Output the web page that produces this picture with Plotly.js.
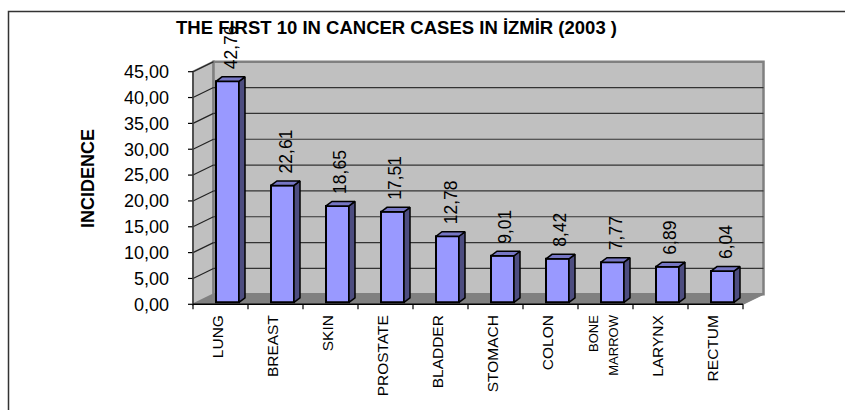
<!DOCTYPE html>
<html><head><meta charset="utf-8">
<script src="https://cdn.plot.ly/plotly-3.0.1.min.js"></script>
<style>html,body{margin:0;padding:0;background:#fff}#chart{width:845px;height:410px}</style>
</head><body><div id="chart"></div>
<script>
// ---- data ----
const categories = ['LUNG','BREAST','SKIN','PROSTATE','BLADDER','STOMACH','COLON','BONE MARROW','LARYNX','RECTUM'];
const incidence = [42.76, 22.61, 18.65, 17.51, 12.78, 9.01, 8.42, 7.77, 6.89, 6.04];
const yTickValues = [0, 5, 10, 15, 20, 25, 30, 35, 40, 45];
const chartTitle = 'THE FIRST 10 IN CANCER CASES IN İZMİR (2003 )';
const yTitle = 'INCIDENCE';

const fmt = v => v.toFixed(2).replace('.', ',');
const valueLabels = incidence.map(fmt);
const yTickLabels = yTickValues.map(fmt);
const tickText = categories.map(c => c.indexOf(' ') > 0
  ? c.split(' ').map(w => '<span style="font-size:13px">' + w + '</span>').join('<br>')
  : c);

// ---- geometry (pixels) ----
const W = 845, H = 410;
const FX0 = 193, FX10 = 743, FY0 = 304.3, FY45 = 71.7;   // front plane
const kx = (FX10 - FX0) / categories.length;
const ky = (FY0 - FY45) / 45;
const L = 187, R = 768, T = 58, B = 311;                  // plot area
const DX = 20.5, DY = 10;                                  // wall depth
const ox = DX / kx, oy = DY / ky;
const BAR_OFF = 23, BAR_W = 23, BAR_LIFT = 2, SIDE_DX = 6, SIDE_DY = 4.5;
const yMax = 45;
const n = categories.length;

const FONT = 'Liberation Sans, Arial, sans-serif';
const px2x = p => p / kx, px2y = p => p / ky;

// ---- bars ----
const idx = categories.map((_, i) => i);
const base = px2y(BAR_LIFT);
const barX = idx.map(i => i + px2x(BAR_OFF + BAR_W / 2));
const sdx = px2x(SIDE_DX), sdy = px2y(SIDE_DY);

const sideX = [], sideY = [], topX = [], topY = [];
idx.forEach(i => {
  const xl = i + px2x(BAR_OFF), xr = i + px2x(BAR_OFF + BAR_W);
  const yt = base + incidence[i];
  sideX.push(xr, xr, xr + sdx, xr + sdx, xr, null);
  sideY.push(base, yt, yt + sdy, base + sdy, base, null);
  topX.push(xl, xr, xr + sdx, xl + sdx, xl, null);
  topY.push(yt, yt, yt + sdy, yt + sdy, yt, null);
});

const traces = [
  {type: 'bar', x: barX, y: incidence, base: base, width: px2x(BAR_W),
   marker: {color: '#9999FF', line: {color: '#000000', width: 2}}, hoverinfo: 'skip'},
  {type: 'scatter', mode: 'lines', x: sideX, y: sideY, fill: 'toself', fillcolor: '#4D4D80',
   line: {color: '#000000', width: 1.5}, hoverinfo: 'skip'},
  {type: 'scatter', mode: 'lines', x: topX, y: topY, fill: 'toself', fillcolor: '#7676C4',
   line: {color: '#000000', width: 1.5}, hoverinfo: 'skip'}
];

// ---- walls, floor, grid, axes as shapes ----
const shapes = [];
const line = (x0, y0, x1, y1, color, width, layer) => shapes.push({type: 'line', xref: 'x', yref: 'y',
  x0, y0, x1, y1, line: {color, width}, layer: layer || 'below'});
// left wall
shapes.push({type: 'path', xref: 'x', yref: 'y', layer: 'below',
  path: `M0,0 L0,${yMax} L${ox},${yMax + oy} L${ox},${oy} Z`,
  fillcolor: '#C0C0C0', line: {color: '#808080', width: 2}});
// back wall
shapes.push({type: 'rect', xref: 'x', yref: 'y', layer: 'below',
  x0: ox, x1: n + ox, y0: oy, y1: yMax + oy, fillcolor: '#C0C0C0', line: {color: '#808080', width: 2.5}});
// floor
shapes.push({type: 'path', xref: 'x', yref: 'y', layer: 'below',
  path: `M0,0 L${n},0 L${n + ox},${oy} L${ox},${oy} Z`,
  fillcolor: '#808080', line: {width: 0}});
// gridlines
yTickValues.forEach(v => {
  if (v > 0 && v < yMax) line(ox, v + oy, n + ox, v + oy, '#333333', 1.2);
  if (v > 0) line(0, v, ox, v + oy, '#222222', 1.2);
  line(-px2x(5), v, 0, v, '#000000', 1.2);
});
// axes
line(0, 0, 0, yMax, '#404040', 1.5);
line(0, 0, n, 0, '#000000', 1.5);
line(n, 0, n + ox, oy, '#808080', 1.2);
for (let i = 0; i <= n; i++) line(i, 0, i, -px2y(5), '#000000', 1.2);

// outer frame (paper coords)
const pxToPaperX = p => (p - L) / (R - L), pxToPaperY = p => (B - p) / (B - T);
shapes.push({type: 'rect', xref: 'paper', yref: 'paper', layer: 'above',
  x0: pxToPaperX(8.5), x1: pxToPaperX(860), y0: pxToPaperY(430), y1: pxToPaperY(11.5),
  line: {color: '#333333', width: 1.5}, fillcolor: 'rgba(0,0,0,0)'});

// ---- annotations ----
const annotations = idx.map(i => ({
  x: i + px2x(BAR_OFF + BAR_W / 2 + SIDE_DX / 2), y: base + incidence[i] + sdy,
  xref: 'x', yref: 'y', text: valueLabels[i], showarrow: false, textangle: -90,
  xanchor: 'center', yanchor: 'bottom', yshift: 5,
  font: {family: FONT, size: 17.5, color: '#000000'}
}));
annotations.push({xref: 'paper', yref: 'paper', x: pxToPaperX(88), y: pxToPaperY(179),
  text: '<b>' + yTitle + '</b>', showarrow: false, textangle: -90, xanchor: 'center', yanchor: 'middle',
  font: {family: FONT, size: 18, color: '#000000'}});

const layout = {
  width: W, height: H,
  margin: {l: L, r: W - R, t: T, b: H - B, pad: 0},
  paper_bgcolor: '#ffffff', plot_bgcolor: 'rgba(0,0,0,0)',
  showlegend: false,
  title: {text: '<b>' + chartTitle + '</b>', x: 396.5 / W, xref: 'container', xanchor: 'center',
          y: 1 - 27.5 / H, yref: 'container', yanchor: 'middle',
          font: {family: FONT, size: 18.5, color: '#000000'}},
  xaxis: {range: [(L - FX0) / kx, (R - FX0) / kx], tickvals: idx.map(i => i + 0.45), ticktext: tickText,
          tickangle: -90, ticks: '', showgrid: false, zeroline: false, showline: false,
          tickfont: {family: FONT, size: 15.5, color: '#000000'}, fixedrange: true},
  yaxis: {range: [(FY0 - B) / ky, (FY0 - T) / ky], tickvals: yTickValues, ticktext: yTickLabels,
          ticks: '', showgrid: false, zeroline: false, showline: false, ticklabelstandoff: 17,
          tickfont: {family: FONT, size: 18, color: '#000000'}, fixedrange: true},
  shapes: shapes,
  annotations: annotations,
  bargap: 0
};

Plotly.newPlot('chart', traces, layout, {displayModeBar: false, staticPlot: true});
</script>
</body></html>
